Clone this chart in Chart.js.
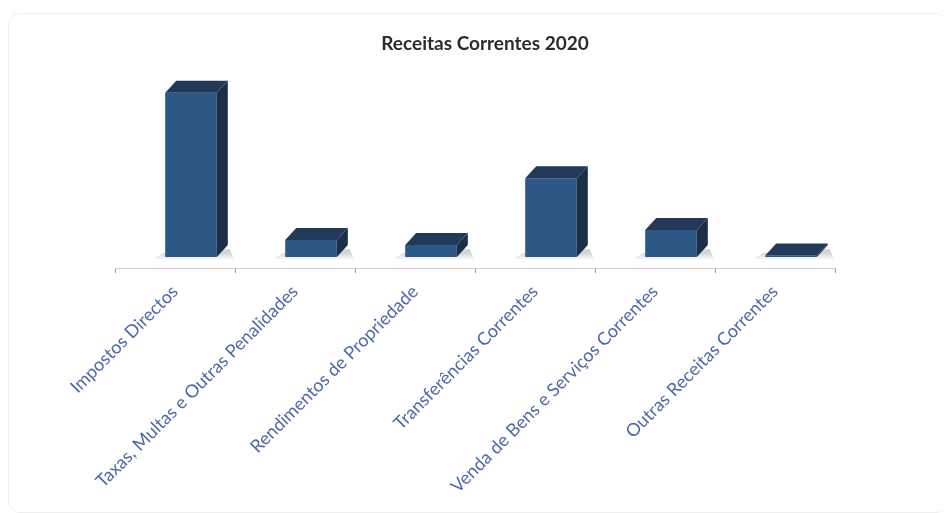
<!DOCTYPE html>
<html>
<head>
<meta charset="utf-8">
<script src="https://cdn.jsdelivr.net/npm/chart.js@4.4.1/dist/chart.umd.min.js"></script>
<style>
    html, body { margin: 0; padding: 0; background: #ffffff; }
    #wrap { position: relative; width: 944px; height: 513px; }
    #card {
        position: absolute; left: 8px; top: 13px; width: 940px; height: 500px;
        border: 1px solid #eeeeee; border-radius: 12px; box-sizing: border-box;
    }
    canvas { position: absolute; left: 0; top: 0; }
</style>
</head>
<body>
<div id="wrap">
    <div id="card"></div>
    <canvas id="chart" width="944" height="513"></canvas>
</div>
<script>
'use strict';

const categories = [
    'Impostos Directos',
    'Taxas, Multas e Outras Penalidades',
    'Rendimentos de Propriedade',
    'Transferências Correntes',
    'Venda de Bens e Serviços Correntes',
    'Outras Receitas Correntes'
];
const receitas = [165, 17, 12, 79, 27, 1.5];
const chartTitle = 'Receitas Correntes 2020';

// 3D look: depth of the bars and the floor offset
const depthX = 11;
const depthY = 12;
const floorX = 16;
const floorY = 11;

const bars3d = {
    id: 'bars3d',
    afterLayout(chart) {
        // title sits a little right of the plot centre
        chart.titleBlock.left += 10;
        chart.titleBlock.right += 10;
    },
    beforeDatasetsDraw(chart) {
        const c = chart.ctx;
        c.save();
        c.translate(floorX, -floorY);
        // soft floor shadow
        chart.getDatasetMeta(0).data.forEach(function(bar){
            const p = bar.getProps(['x', 'y', 'base', 'width'], true);
            const l = p.x - p.width / 2;
            const g = c.createLinearGradient(0, p.base - 4, 0, p.base + 5);
            g.addColorStop(0, 'rgba(170,170,170,0.5)');
            g.addColorStop(1, 'rgba(210,210,210,0)');
            c.fillStyle = g;
            c.beginPath();
            c.moveTo(l - 12, p.base + 2);
            c.lineTo(l + p.width + depthX + 6, p.base + 2);
            c.lineTo(l + p.width + depthX + 2, p.base - depthY + 4);
            c.lineTo(l - 2, p.base - 4);
            c.closePath();
            c.fill();
        });
    },
    afterDatasetsDraw(chart) {
        const c = chart.ctx;
        chart.getDatasetMeta(0).data.forEach(function(bar){
            const p = bar.getProps(['x', 'y', 'base', 'width'], true);
            const l = p.x - p.width / 2;
            const r = p.x + p.width / 2;
            // side face
            c.fillStyle = '#1c2f47';
            c.beginPath();
            c.moveTo(r, p.y);
            c.lineTo(r + depthX, p.y - depthY);
            c.lineTo(r + depthX, p.base - depthY);
            c.lineTo(r, p.base);
            c.closePath();
            c.fill();
            // top face
            c.fillStyle = '#22395a';
            c.beginPath();
            c.moveTo(l, p.y);
            c.lineTo(l + depthX, p.y - depthY);
            c.lineTo(r + depthX, p.y - depthY);
            c.lineTo(r, p.y);
            c.closePath();
            c.fill();
        });
        c.restore();
    }
};

const ctx = document.getElementById('chart');

const grafico = new Chart(ctx, {
    type: 'bar',
    data: {
        labels: categories,
        datasets: [{
            data: receitas,
            backgroundColor: '#2d5886',
            borderWidth: 0,
            categoryPercentage: 1,
            barPercentage: 0.43
        }]
    },
    options: {
        responsive: false,
        animation: false,
        layout: { padding: { left: 115, right: 109, top: 0, bottom: 0 } },
        plugins: {
            legend: { display: false },
            tooltip: { enabled: false },
            title: {
                display: true,
                text: chartTitle,
                color: '#2b2b2b',
                font: { family: 'Lato', size: 19, weight: 'bold' },
                padding: { top: 32, bottom: 7 }
            }
        },
        scales: {
            x: {
                grid: {
                    offset: true,
                    drawOnChartArea: false,
                    drawTicks: true,
                    tickLength: 5,
                    color: '#9a9a9a'
                },
                border: { display: true, color: '#cfcfcf' },
                ticks: {
                    minRotation: 45,
                    maxRotation: 45,
                    autoSkip: false,
                    padding: 8,
                    color: '#4d6aa6',
                    font: { family: 'Lato', size: 18 }
                },
                afterFit: function(axis){ axis.height = 245; }
            },
            y: {
                display: false,
                min: 0,
                max: 207
            }
        }
    },
    plugins: [bars3d]
});
</script>
</body>
</html>
